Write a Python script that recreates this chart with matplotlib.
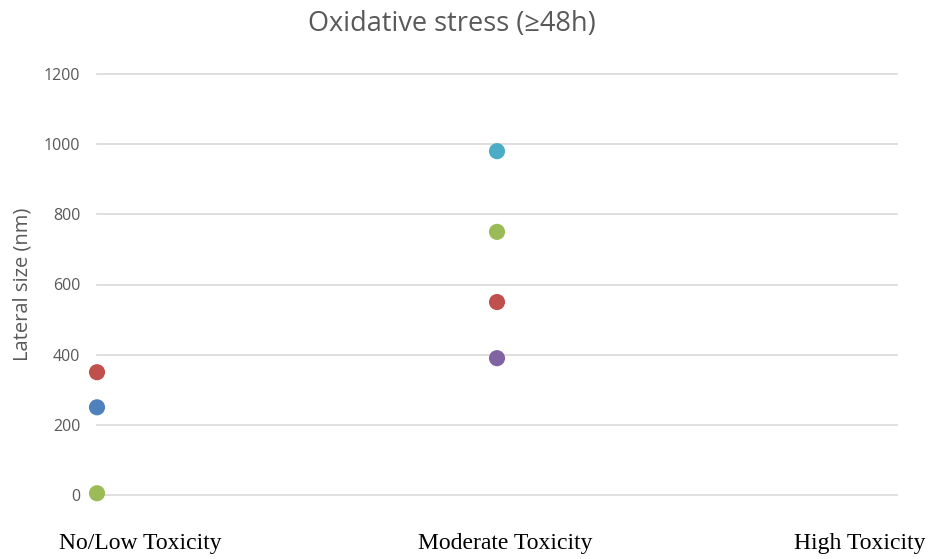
import matplotlib
matplotlib.use("Agg")
import matplotlib.pyplot as plt

categories = ["No/Low Toxicity", "Moderate Toxicity", "High Toxicity"]
cat_x = [1, 2, 3]
# points: (category index, value, colour)
point_cats = [0, 0, 0, 1, 1, 1, 1]
point_vals = [350, 250, 5, 980, 750, 550, 390]
point_colors = ["#C0504D", "#4F81BD", "#9BBB59", "#4BACC6", "#9BBB59", "#C0504D", "#8064A2"]
y_ticks = [0, 200, 400, 600, 800, 1000, 1200]

fig = plt.figure(figsize=(9.31, 5.59), dpi=100)
ax = fig.add_axes([97/931, 64/559, 800/931, 421/559])
ax.set_xlim(1, 3)
ax.set_ylim(0, 1200)
ax.set_yticks(y_ticks)
ax.set_yticklabels([str(t) for t in y_ticks], fontsize=11.5, color="#595959",
                   family=["Open Sans", "DejaVu Sans"])
ax.set_xticks([])
ax.tick_params(axis="y", length=0, pad=12)
ax.grid(axis="y", color="#D9D9D9", lw=1.2)
for gl in ax.get_ygridlines():
    gl.set_clip_on(False)
ax.set_axisbelow(True)
for s in ax.spines.values():
    s.set_visible(False)

xs = [cat_x[i] for i in point_cats]
ax.scatter(xs, point_vals, s=135, c=point_colors, clip_on=False, zorder=3, linewidths=0)

ax.set_ylabel("Lateral size (nm)", fontsize=14.5, color="#595959",
              family=["Open Sans", "DejaVu Sans"], labelpad=8)
fig.text(452/931, 1 - 24/559, "Oxidative stress (\u226548h)", fontsize=19.5, color="#595959",
         family=["Open Sans", "DejaVu Sans"], ha="center", va="center")

label_x = [140, 505, 860]
for lx, lab in zip(label_x, categories):
    fig.text(lx/931, 1 - 544/559, lab, fontsize=17, color="black",
             family=["Liberation Serif", "DejaVu Serif"], ha="center", va="center")

fig.savefig("out.png", dpi=100)
